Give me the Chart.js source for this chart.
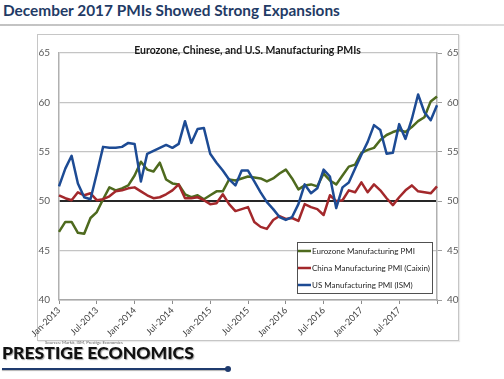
<!DOCTYPE html>
<html>
<head>
<meta charset="utf-8">
<script src="https://cdn.jsdelivr.net/npm/chart.js@4.4.1/dist/chart.umd.min.js"></script>
<style>
  html, body { margin: 0; padding: 0; background: #fff; }
  body { width: 504px; height: 379px; position: relative; overflow: hidden; font-family: Lato, "Open Sans", sans-serif; }
  .page-title { position: absolute; left: 3px; top: 1px; font-weight: 700; color: #1f3b66; font-size: 17px; white-space: nowrap; }
  .rule { position: absolute; left: 0; top: 24px; width: 504px; height: 2px; background: linear-gradient(to right, #c2c2c2, #dcdcdc); }
  .box { position: absolute; left: 37px; top: 34px; width: 420px; height: 305px; border: 1px solid #c6c6c6; box-shadow: 1px 1px 1px rgba(0,0,0,0.08); }
  #wrap { position: absolute; left: 0; top: 0; width: 504px; height: 379px; }
  .chart-title { position: absolute; left: 37px; width: 421px; top: 38px; text-align: center; white-space: nowrap; }
  .chart-title span { font-weight: 700; font-size: 10px; color: #1a1a1a; }
  .source { position: absolute; left: 45px; top: 340px; font-size: 4.5px; color: #666; white-space: nowrap; }
  .logo { position: absolute; left: 2px; top: 342px; font-weight: 900; font-size: 21px; color: #111; white-space: nowrap; text-shadow: 1px 1px 1px rgba(0,0,0,0.35); }
  .logo-line { position: absolute; left: 2px; top: 368px; width: 226px; height: 2px; background: #1f3b6e; box-shadow: 0 1px 1px rgba(0,0,0,0.3); }
  .logo-dot { position: absolute; left: 225px; top: 366px; width: 6px; height: 6px; border-radius: 50%; background: #1f3b6e; }
</style>
</head>
<body>
<span class="page-title" id="pageTitle">December 2017 PMIs Showed Strong Expansions</span>
<div class="rule"></div>
<div class="box"></div>
<div id="wrap"><canvas id="pmiChart" width="504" height="379"></canvas></div>
<div class="chart-title"><span id="chartTitle">Eurozone, Chinese, and U.S. Manufacturing PMIs</span></div>
<span class="source" id="source">Sources: Markit, ISM, Prestige Economics</span>
<span class="logo" id="logo">PRESTIGE ECONOMICS</span>
<div class="logo-line"></div>
<div class="logo-dot"></div>

<script>
const months = [
  'Jan-2013','Feb-2013','Mar-2013','Apr-2013','May-2013','Jun-2013','Jul-2013','Aug-2013','Sep-2013','Oct-2013','Nov-2013','Dec-2013',
  'Jan-2014','Feb-2014','Mar-2014','Apr-2014','May-2014','Jun-2014','Jul-2014','Aug-2014','Sep-2014','Oct-2014','Nov-2014','Dec-2014',
  'Jan-2015','Feb-2015','Mar-2015','Apr-2015','May-2015','Jun-2015','Jul-2015','Aug-2015','Sep-2015','Oct-2015','Nov-2015','Dec-2015',
  'Jan-2016','Feb-2016','Mar-2016','Apr-2016','May-2016','Jun-2016','Jul-2016','Aug-2016','Sep-2016','Oct-2016','Nov-2016','Dec-2016',
  'Jan-2017','Feb-2017','Mar-2017','Apr-2017','May-2017','Jun-2017','Jul-2017','Aug-2017','Sep-2017','Oct-2017','Nov-2017','Dec-2017',
  'Jan-2018'
];
const tickLabels = ['Jan-2013','Jul-2013','Jan-2014','Jul-2014','Jan-2015','Jul-2015','Jan-2016','Jul-2016','Jan-2017','Jul-2017'];

const eurozonePmi = [
  46.9, 47.9, 47.9, 46.8, 46.7, 48.3, 48.9, 50.2, 51.4, 51.1, 51.3, 51.6,
  52.6, 54.0, 53.2, 53.0, 53.9, 52.2, 51.8, 51.7, 50.7, 50.4, 50.6, 50.2,
  50.6, 51.0, 51.0, 52.2, 52.1, 52.3, 52.5, 52.4, 52.3, 52.0, 52.3, 52.8,
  53.2, 52.3, 51.2, 51.6, 51.7, 51.5, 52.8, 52.1, 51.7, 52.6, 53.5, 53.7,
  54.9, 55.2, 55.4, 56.2, 56.7, 57.0, 57.2, 57.0, 57.5, 58.1, 58.5, 60.1,
  60.6
];
const chinaPmi = [
  50.6, 50.3, 50.1, 50.9, 50.6, 50.8, 50.1, 50.2, 50.5, 51.0, 51.1, 51.3,
  51.4, 51.0, 50.6, 50.3, 50.4, 50.7, 51.1, 51.7, 50.3, 50.3, 50.4, 50.1,
  49.7, 49.8, 50.7, 49.7, 49.0, 49.2, 49.4, 47.9, 47.4, 47.2, 48.1, 48.5,
  48.2, 48.3, 48.0, 49.7, 49.4, 49.2, 48.6, 50.6, 50.0, 50.1, 51.1, 50.9,
  51.9, 50.9, 51.7, 51.1, 50.3, 49.6, 50.4, 51.1, 51.6, 51.0, 50.9, 50.8,
  51.5
];
const usPmi = [
  51.5, 53.3, 54.6, 51.8, 50.4, 50.2, 52.8, 55.5, 55.4, 55.4, 55.5, 55.9,
  55.8, 52.0, 54.8, 55.1, 55.4, 55.7, 55.4, 55.8, 58.1, 55.9, 57.3, 57.4,
  54.8, 53.9, 53.1, 52.2, 51.6, 53.1, 53.1, 52.0, 50.9, 49.9, 49.2, 48.4,
  48.1, 48.4, 49.7, 51.7, 50.8, 51.3, 53.2, 52.5, 49.3, 51.4, 51.9, 53.3,
  54.7, 56.0, 57.7, 57.2, 54.8, 54.9, 57.8, 56.3, 58.3, 60.8, 59.0, 58.2,
  59.7
];

// squeeze the html text to the widths seen in the picture
function fitWidth(id, target) {
  const el = document.getElementById(id);
  const w = el.getBoundingClientRect().width;
  const size = parseFloat(getComputedStyle(el).fontSize);
  el.style.fontSize = (size * target / w) + 'px';
}
fitWidth('pageTitle', 337);
fitWidth('chartTitle', 227);
fitWidth('logo', 192);
fitWidth('source', 78);

// legend box drawn inside the plot area
const boxLegend = {
  id: 'boxLegend',
  afterDatasetsDraw(chart, args, opts) {
    const { ctx } = chart;
    ctx.save();
    ctx.fillStyle = '#fff';
    ctx.fillRect(opts.x, opts.y, opts.w, opts.h);
    ctx.strokeStyle = '#505050';
    ctx.lineWidth = 1;
    ctx.strokeRect(opts.x + 0.5, opts.y + 0.5, opts.w, opts.h);
    ctx.font = '8px Lato';
    ctx.textBaseline = 'middle';
    chart.data.datasets.forEach((ds, i) => {
      const cy = opts.y + opts.first + i * opts.gap;
      ctx.strokeStyle = ds.borderColor;
      ctx.lineWidth = 2.5;
      ctx.beginPath();
      ctx.moveTo(opts.x + 1, cy);
      ctx.lineTo(opts.x + 14, cy);
      ctx.stroke();
      ctx.fillStyle = '#262626';
      ctx.fillText(ds.label, opts.x + 15, cy + 0.5);
    });
    ctx.restore();
  }
};

const tickFont = { family: 'Lato', size: 10 };

new Chart(document.getElementById('pmiChart'), {
  type: 'line',
  data: {
    labels: months,
    datasets: [
      { label: 'Eurozone Manufacturing PMI', data: eurozonePmi, borderColor: '#4e6a1e', order: 2 },
      { label: 'China Manufacturing PMI (Caixin)', data: chinaPmi, borderColor: '#a3282b', order: 1 },
      { label: 'US Manufacturing PMI (ISM)', data: usPmi, borderColor: '#1d4b94', order: 0 }
    ]
  },
  options: {
    responsive: false,
    animation: false,
    layout: { padding: { top: 53, left: 0, right: 0, bottom: 0 }, autoPadding: false },
    elements: {
      line: { borderWidth: 2.5, tension: 0, fill: false, borderJoinStyle: 'round' },
      point: { radius: 0, hoverRadius: 0 }
    },
    plugins: {
      legend: { display: false },
      tooltip: { enabled: false },
      boxLegend: { x: 297, y: 242, w: 135, h: 51, first: 9, gap: 17 }
    },
    scales: {
      x: {
        offset: false,
        grid: {
          drawOnChartArea: false,
          drawTicks: true,
          tickLength: 4,
          tickColor: (c) => (c.index % 6 === 0 ? '#8c8c8c' : 'rgba(0,0,0,0)')
        },
        border: { color: '#a8a8a8', width: 1.5 },
        ticks: {
          autoSkip: false,
          minRotation: 45,
          maxRotation: 45,
          padding: 1,
          color: '#3f3f3f',
          font: { family: 'Lato', size: 9 },
          callback: (v, i) => (tickLabels.includes(months[i]) ? months[i] : '')
        },
        afterFit: (s) => { s.height = 79; s.paddingLeft = 0; s.paddingRight = 0; }
      },
      y: {
        position: 'left',
        min: 40,
        max: 65,
        ticks: { stepSize: 5, padding: 9, color: '#595959', font: tickFont },
        grid: {
          drawTicks: false,
          color: (c) => (c.tick.value === 50 ? '#262626' : '#c4c4c4'),
          lineWidth: (c) => (c.tick.value === 50 ? 2 : 1.3)
        },
        border: { color: '#b0b0b0', width: 1.5 },
        afterFit: (s) => { s.width = 59; s.paddingTop = 0; s.paddingBottom = 0; }
      },
      y2: {
        position: 'right',
        min: 40,
        max: 65,
        ticks: { stepSize: 5, padding: 5, color: '#595959', font: tickFont },
        grid: { drawOnChartArea: false, drawTicks: true, tickLength: 5, tickColor: '#9e9e9e' },
        border: { color: '#b0b0b0', width: 1.5 },
        afterFit: (s) => { s.width = 67; s.paddingTop = 0; s.paddingBottom = 0; }
      }
    }
  },
  plugins: [boxLegend]
});
</script>
</body>
</html>
